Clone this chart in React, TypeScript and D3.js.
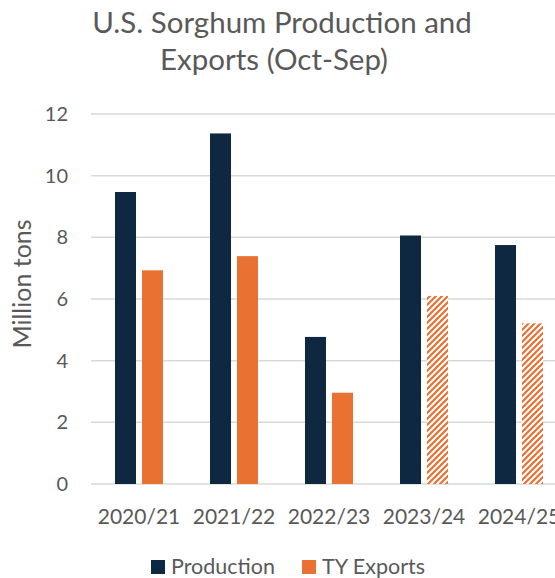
import React from "react";
import * as d3 from "d3";

const categories = ["2020/21", "2021/22", "2022/23", "2023/24", "2024/25"];
const seriesNames = ["Production", "TY Exports"];
const production = [9.47, 11.37, 4.77, 8.06, 7.75];
const exportsVals = [6.93, 7.39, 2.96, 6.1, 5.21];
const projected = [false, false, false, true, true];
const yTicks = [0, 2, 4, 6, 8, 10, 12];

const NAVY = "#0E2841";
const ORANGE = "#E97132";
const TEXT = "#595959";
const GRID = "#D9D9D9";
const FONT = "Lato, 'Open Sans', sans-serif";

export default function App() {
  const W = 555;
  const H = 578;
  const x0 = d3.scaleBand<string>().domain(categories).range([91.5, 566.5]).padding(0);
  const x1 = d3
    .scaleBand<string>()
    .domain(seriesNames)
    .range([23.5, 71.5])
    .paddingInner(6 / 27)
    .paddingOuter(0);
  const y = d3.scaleLinear().domain([0, 12]).range([484, 114]);

  return (
    <svg
      width={W}
      height={H}
      style={{ position: "absolute", left: 0, top: 0, background: "#fff" }}
      fontFamily={FONT}
    >
      <defs>
        <pattern id="hatch" patternUnits="userSpaceOnUse" width={6} height={6}>
          <rect width={6} height={6} fill="#fff" />
          <path
            d="M-1.5,1.5 L1.5,-1.5 M0,6 L6,0 M4.5,7.5 L7.5,4.5"
            stroke={ORANGE}
            strokeWidth={2.2}
          />
        </pattern>
      </defs>
      <rect width={W} height={H} fill="#fff" />

      {/* title */}
      <text x={282} y={33} textAnchor="middle" fontSize={29.5} fill={TEXT}>
        U.S. Sorghum Production and
      </text>
      <text x={274} y={70} textAnchor="middle" fontSize={29.5} fill={TEXT}>
        Exports (Oct-Sep)
      </text>

      {/* gridlines */}
      {yTicks.map((t) => (
        <line
          key={t}
          x1={91}
          x2={W}
          y1={y(t)}
          y2={y(t)}
          stroke={GRID}
          strokeWidth={1.5}
        />
      ))}

      {/* y tick labels */}
      {yTicks.map((t) => (
        <text
          key={t}
          x={68}
          y={y(t)}
          dy="0.35em"
          textAnchor="end"
          fontSize={20}
          fill={TEXT}
        >
          {t}
        </text>
      ))}

      {/* y axis title */}
      <text
        transform={`translate(31,284) rotate(-90)`}
        textAnchor="middle"
        fontSize={25}
        fill={TEXT}
      >
        Million tons
      </text>

      {/* bars */}
      {categories.map((c, i) => {
        const bx = x0(c)!;
        return (
          <g key={c}>
            <rect
              x={bx + x1("Production")!}
              y={y(production[i])}
              width={x1.bandwidth()}
              height={y(0) - y(production[i])}
              fill={NAVY}
            />
            <rect
              x={bx + x1("TY Exports")!}
              y={y(exportsVals[i])}
              width={x1.bandwidth()}
              height={y(0) - y(exportsVals[i])}
              fill={projected[i] ? "url(#hatch)" : ORANGE}
            />
          </g>
        );
      })}

      {/* x labels */}
      {categories.map((c) => (
        <text
          key={c}
          x={x0(c)! + x0.bandwidth() / 2}
          y={524}
          textAnchor="middle"
          fontSize={21}
          fill={TEXT}
        >
          {c}
        </text>
      ))}

      {/* legend */}
      <rect x={151} y={560} width={14} height={14} fill={NAVY} />
      <text x={171} y={573.5} fontSize={21.5} fill={TEXT}>
        Production
      </text>
      <rect x={302} y={560} width={14} height={14} fill={ORANGE} />
      <text x={322} y={573.5} fontSize={21.5} fill={TEXT}>
        TY Exports
      </text>
    </svg>
  );
}
